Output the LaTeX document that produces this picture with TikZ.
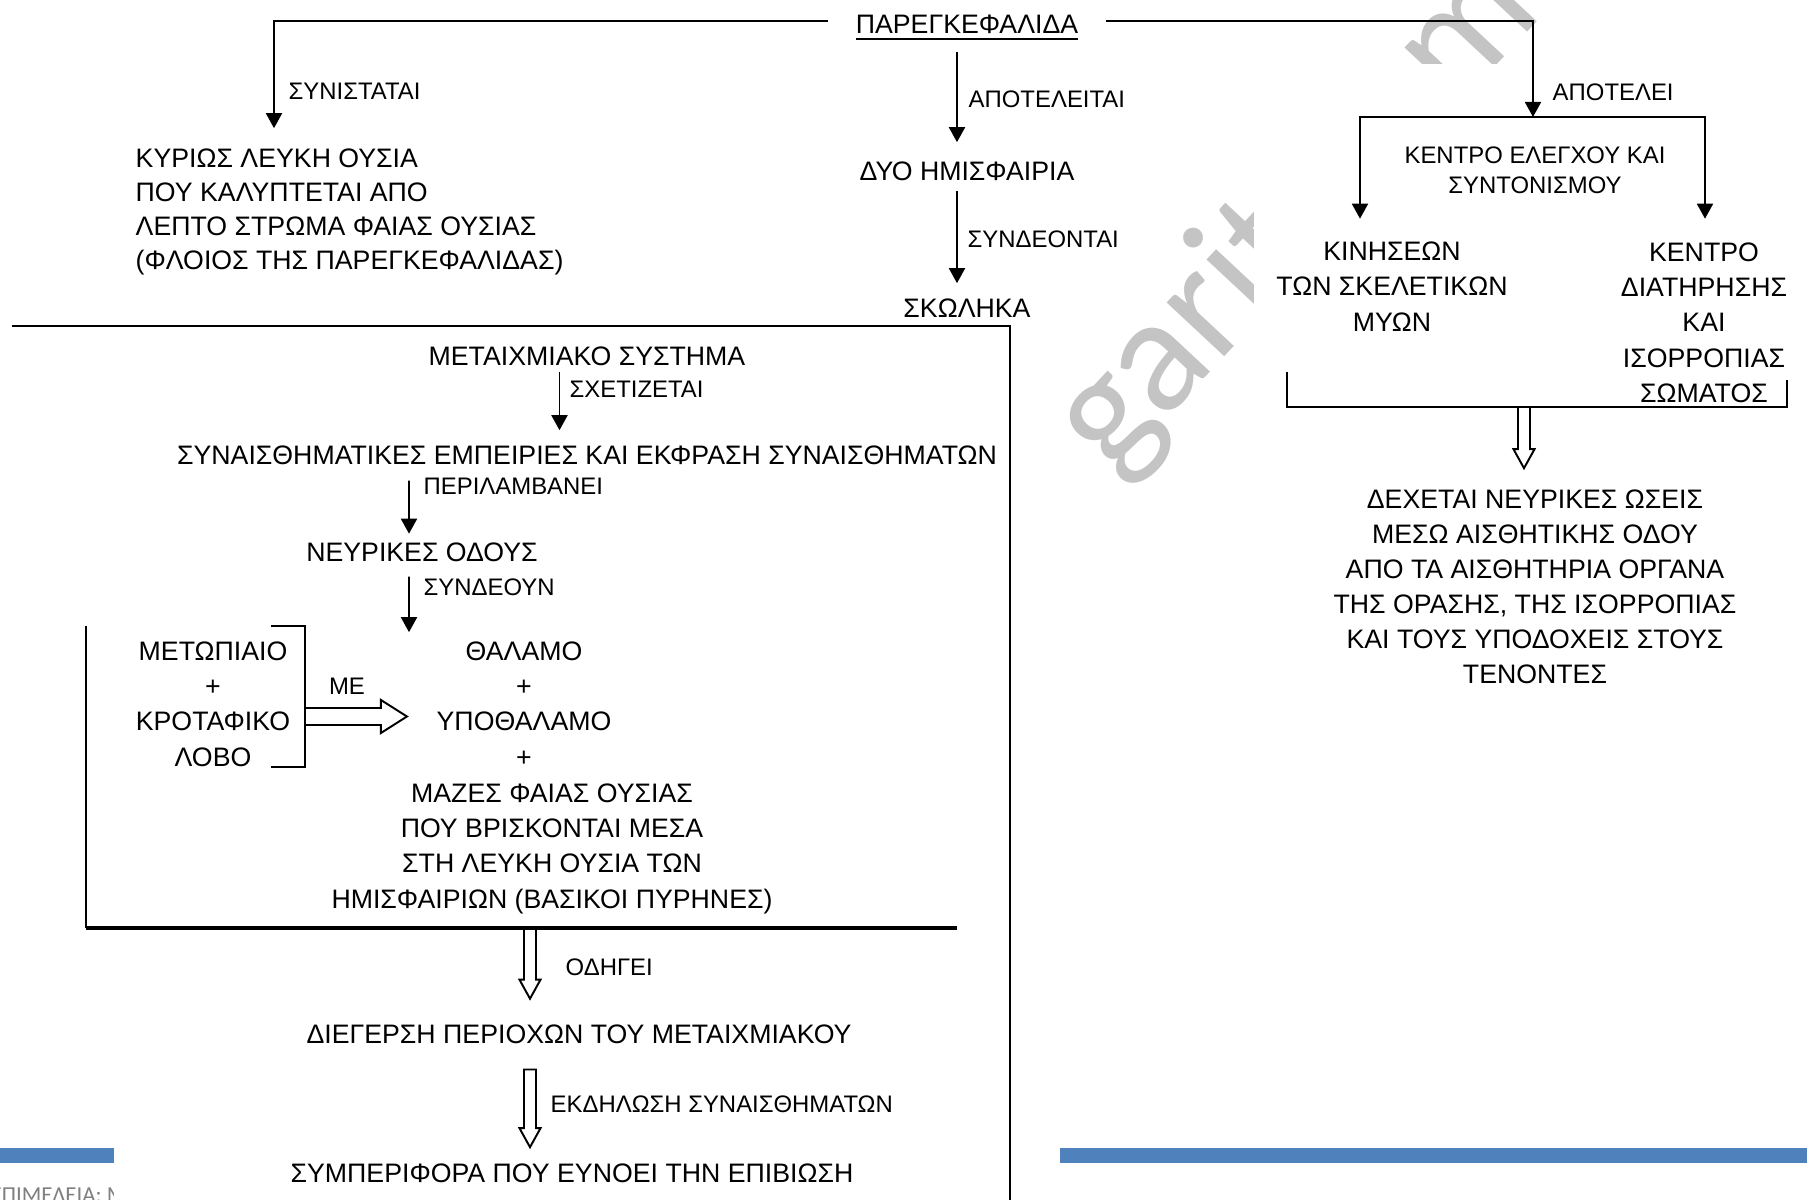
\documentclass[tikz,border=0pt]{standalone}
\usepackage{fontspec}
\setmainfont{Liberation Sans}
\newfontfamily\footfont{Carlito}
\usetikzlibrary{arrows.meta,calc}
\definecolor{barblue}{RGB}{79,129,189}

\begin{document}
\begin{tikzpicture}[x=0.1mm,y=-0.1mm,
    txt/.style={font=\fontsize{7.6}{10}\selectfont,inner sep=0pt,align=center,anchor=north},
    lbl/.style={font=\fontsize{6.8}{8.7}\selectfont,inner sep=0pt,anchor=north west},
    ln/.style={line width=0.55pt},
    arr/.style={ln,-{Triangle[length=1.5mm,width=1.6mm]}},
    wmark/.style={font=\footfont\fontsize{47}{47}\selectfont,text=black!23,rotate=47,inner sep=0pt},
    blockdown/.style={ln,to path={let \p1=(\tikztostart),\p2=(\tikztotarget) in
        (\x1-0.6mm,\y1)--(\x1-0.6mm,\y2+1.9mm)--(\x1-1.05mm,\y2+1.9mm)--(\x1,\y2)
        --(\x1+1.05mm,\y2+1.9mm)--(\x1+0.6mm,\y2+1.9mm)--(\x1+0.6mm,\y1)--cycle}},
    blockright/.style={ln,to path={let \p1=(\tikztostart),\p2=(\tikztotarget) in
        (\x1,\y1+0.85mm)--(\x2-2.6mm,\y1+0.85mm)--(\x2-2.6mm,\y1+1.65mm)--(\x2,\y1)
        --(\x2-2.6mm,\y1-1.65mm)--(\x2-2.6mm,\y1-0.85mm)--(\x1,\y1-0.85mm)}}]

    \useasboundingbox (0,0) rectangle (1807,1200);

    % watermark, partly hidden
    \node[wmark,anchor=base west] (wm) at (1112,478) {garit.com};
    \fill[white] (1254,64) rectangle (1807,1200);

    \fill[barblue] (0,1148) rectangle (114,1163);
    \fill[barblue] (1060,1148) rectangle (1807,1163);
    \begin{scope}
        \clip (0,1100) rectangle (113,1200);
        \node[font=\footfont\fontsize{6.5}{7}\selectfont,text=black!50,anchor=base west,inner sep=0pt] (foot) at (-10,1202) {ΕΠΙΜΕΛΕΙΑ: Μ};
    \end{scope}

    % top
    \node[txt] (par) at (967,14.7) {\underline{ΠΑΡΕΓΚΕΦΑΛΙΔΑ}};
    \node[txt] (hem) at (967,160.7) {ΔΥΟ ΗΜΙΣΦΑΙΡΙΑ};
    \node[txt] (sko) at (967,297.7) {ΣΚΩΛΗΚΑ};
    \node[txt,anchor=north west,align=left,font=\fontsize{7.6}{9.75}\selectfont] (kyr) at (135,147.7)
        {ΚΥΡΙΩΣ ΛΕΥΚΗ ΟΥΣΙΑ\\ΠΟΥ ΚΑΛΥΠΤΕΤΑΙ ΑΠΟ\\ΛΕΠΤΟ ΣΤΡΩΜΑ ΦΑΙΑΣ ΟΥΣΙΑΣ\\(ΦΛΟΙΟΣ ΤΗΣ ΠΑΡΕΓΚΕΦΑΛΙΔΑΣ)};

    \node[lbl] (lsyn) at (288,82.7) {ΣΥΝΙΣΤΑΤΑΙ};
    \node[lbl] (lapo) at (968,89.7) {ΑΠΟΤΕΛΕΙΤΑΙ};
    \node[lbl] (lsde) at (967,229.7) {ΣΥΝΔΕΟΝΤΑΙ};
    \node[lbl] (lapo2) at (1552,82.7) {ΑΠΟΤΕΛΕΙ};

    \draw[arr] ($(par.west)+(-2.7mm,0.75mm)$) -| ($(kyr.north west)+(13.9mm,1.95mm)$);
    \draw[arr] ($(par.south)+(-1mm,-1mm)$) -- ($(hem.north)+(-1mm,1.85mm)$);
    \draw[arr] ($(hem.south)+(-1mm,-0.95mm)$) -- ($(sko.north)+(-1mm,1.45mm)$);

    % right part
    \coordinate (split) at (1533,117);
    \node[txt,font=\fontsize{7.6}{10.1}\selectfont] (kin) at (1392,240.7) {ΚΙΝΗΣΕΩΝ\\ΤΩΝ ΣΚΕΛΕΤΙΚΩΝ\\ΜΥΩΝ};
    \node[txt,font=\fontsize{7.6}{10.05}\selectfont] (ken) at (1704,241.7) {ΚΕΝΤΡΟ\\ΔΙΑΤΗΡΗΣΗΣ\\ΚΑΙ\\ΙΣΟΡΡΟΠΙΑΣ\\ΣΩΜΑΤΟΣ};
    \node[lbl,anchor=north,align=center] (kel) at (1535,145.7) {ΚΕΝΤΡΟ ΕΛΕΓΧΟΥ ΚΑΙ\\ΣΥΝΤΟΝΙΣΜΟΥ};
    \node[txt] (dex) at (1535,488.7) {ΔΕΧΕΤΑΙ ΝΕΥΡΙΚΕΣ ΩΣΕΙΣ\\ΜΕΣΩ ΑΙΣΘΗΤΙΚΗΣ ΟΔΟΥ\\ΑΠΟ ΤΑ ΑΙΣΘΗΤΗΡΙΑ ΟΡΓΑΝΑ\\ΤΗΣ ΟΡΑΣΗΣ, ΤΗΣ ΙΣΟΡΡΟΠΙΑΣ\\ΚΑΙ ΤΟΥΣ ΥΠΟΔΟΧΕΙΣ ΣΤΟΥΣ\\ΤΕΝΟΝΤΕΣ};

    \draw[arr] ($(par.east)+(2.7mm,0.75mm)$) -| (split);
    \draw[arr] (split) -| ($(kin.north)+(-3.2mm,2.2mm)$);
    \draw[arr] (split) -| ($(ken.north)+(0.1mm,2.3mm)$);

    \draw[ln] (1287,372) |- (1787,407) -- (1787,380);
    \coordinate (rbot) at (1524,407);
    \draw[blockdown] (rbot) to ($(rbot |- dex.north)+(0,2.05mm)$);

    % left box
    \draw[ln] (12,326) -| (1010,1210);
    \draw[ln] (86,626) -- (86,928);
    \draw[line width=0.9pt] (86,928) -- (957,928);

    \node[txt] (met) at (587,345.7) {ΜΕΤΑΙΧΜΙΑΚΟ ΣΥΣΤΗΜΑ};
    \node[txt] (syn) at (587,444.7) {ΣΥΝΑΙΣΘΗΜΑΤΙΚΕΣ ΕΜΠΕΙΡΙΕΣ ΚΑΙ ΕΚΦΡΑΣΗ ΣΥΝΑΙΣΘΗΜΑΤΩΝ};
    \node[txt] (neu) at (422,541.7) {ΝΕΥΡΙΚΕΣ ΟΔΟΥΣ};
    \node[txt,font=\fontsize{7.6}{10.05}\selectfont] (lob) at (213,640.7) {ΜΕΤΩΠΙΑΙΟ\\+\\ΚΡΟΤΑΦΙΚΟ\\ΛΟΒΟ};
    \node[txt,font=\fontsize{7.6}{10.05}\selectfont] (thal) at (524,640.7) {ΘΑΛΑΜΟ\\+\\ΥΠΟΘΑΛΑΜΟ\\+};
    \node[txt,font=\fontsize{7.6}{10.05}\selectfont] (maz) at (552,782.7) {ΜΑΖΕΣ ΦΑΙΑΣ ΟΥΣΙΑΣ\\ΠΟΥ ΒΡΙΣΚΟΝΤΑΙ ΜΕΣΑ\\ΣΤΗ ΛΕΥΚΗ ΟΥΣΙΑ ΤΩΝ\\ΗΜΙΣΦΑΙΡΙΩΝ (ΒΑΣΙΚΟΙ ΠΥΡΗΝΕΣ)};
    \node[txt] (dieg) at (579,1023.7) {ΔΙΕΓΕΡΣΗ ΠΕΡΙΟΧΩΝ ΤΟΥ ΜΕΤΑΙΧΜΙΑΚΟΥ};
    \node[txt] (symp) at (572,1162.7) {ΣΥΜΠΕΡΙΦΟΡΑ ΠΟΥ ΕΥΝΟΕΙ ΤΗΝ ΕΠΙΒΙΩΣΗ};

    \node[lbl] (lsxe) at (569,380.7) {ΣΧΕΤΙΖΕΤΑΙ};
    \node[lbl] (lper) at (423,477.7) {ΠΕΡΙΛΑΜΒΑΝΕΙ};
    \node[lbl] (lsdn) at (423,577.7) {ΣΥΝΔΕΟΥΝ};
    \node[lbl,anchor=north] (lme) at (347,677.7) {ΜΕ};
    \node[lbl] (lodh) at (565,957.7) {ΟΔΗΓΕΙ};
    \node[lbl] (lekd) at (550,1094.7) {ΕΚΔΗΛΩΣΗ ΣΥΝΑΙΣΘΗΜΑΤΩΝ};

    \draw[arr] ($(met.south)+(-2.75mm,-0.55mm)$) -- ($(syn.north)+(-2.75mm,1.45mm)$);
    \draw[arr] ($(syn.south)+(-17.8mm,-1.55mm)$) -- ($(neu.north)+(-1.3mm,0.8mm)$);
    \draw[arr] ($(neu.south)+(-1.3mm,-1.45mm)$) -- ($(thal.north)+(-11.5mm,0.85mm)$);

    \draw[ln] (271,626) -- (305,626) -- (305,767) -- (271,767);
    \coordinate (brk) at (305,716.5);
    \draw[blockright] (brk) to ($(brk -| thal.west)+(-2.9mm,0)$);

    \coordinate (boxbot) at (530,928);
    \draw[blockdown] (boxbot) to ($(boxbot |- dieg.north)+(0,2.5mm)$);
    \draw[blockdown] ($(boxbot |- dieg.south)+(0,-2.55mm)$) to ($(boxbot |- symp.north)+(0,1.55mm)$);

\end{tikzpicture}
\end{document}
